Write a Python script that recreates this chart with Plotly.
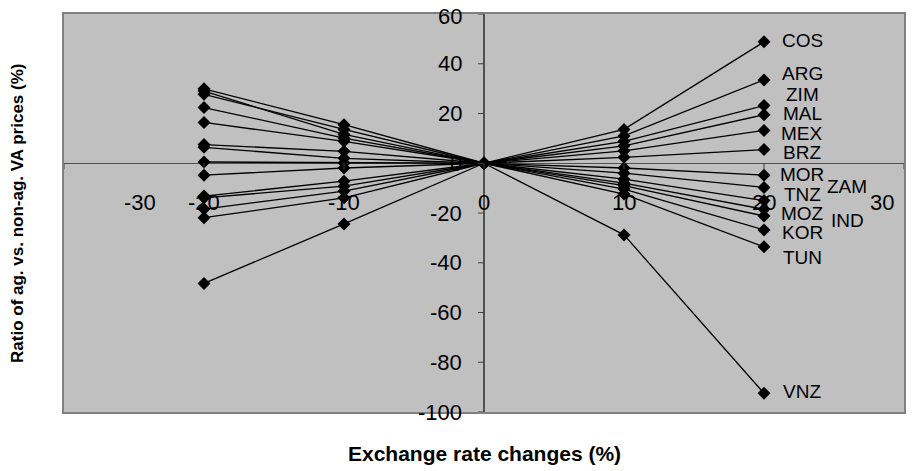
import plotly.graph_objects as go

# ---- data ----
x_changes = [-20, -10, 0, 10, 20]
countries = ["COS", "ARG", "ZIM", "MAL", "MEX", "BRZ", "MOR", "TNZ",
             "ZAM", "MOZ", "IND", "KOR", "TUN", "VNZ"]
cos = [-48.3, -24.4, 0, 13.6, 48.8]
arg = [-21.9, -13.9, 0, 11.0, 33.5]
zim = [-18.4, -11.2, 0, 8.8, 23.2]
mal = [-13.9, -9.2, 0, 7.0, 19.5]
mex = [-13.2, -7.2, 0, 5.0, 13.2]
brz = [-4.8, -1.9, 0, 2.4, 5.5]
mor = [0.5, 0.1, 0, -1.9, -4.8]
tnz = [6.4, 2.0, 0, -4.0, -9.7]
zam = [7.5, 4.8, 0, -6.4, -15.0]
moz = [16.4, 8.8, 0, -8.0, -18.5]
ind = [22.4, 10.1, 0, -9.0, -21.2]
kor = [27.7, 13.6, 0, -10.4, -26.8]
tun = [29.9, 15.5, 0, -12.4, -33.6]
vnz = [29.0, 11.6, 0, -28.8, -92.5]
series_values = [cos, arg, zim, mal, mex, brz, mor, tnz, zam, moz, ind, kor, tun, vnz]

x_ticks = [-30, -20, -10, 0, 10, 20, 30]
y_ticks = [-100, -80, -60, -40, -20, 0, 20, 40, 60]

# ---- label styling (pixel offsets) ----
label_yshift = {"COS": 1, "ARG": 6, "ZIM": 11, "MAL": 1, "MEX": -3, "BRZ": -3,
                "MOR": 1, "TNZ": -7, "ZAM": 14, "MOZ": -4, "IND": -5,
                "KOR": -3, "TUN": -11, "VNZ": 2}
label_xshift = {c: 38 for c in countries}
label_xshift["ZAM"] = 83
label_xshift["IND"] = 83

FONT = "Liberation Sans, Arial, sans-serif"

fig = go.Figure()
for name, vals in zip(countries, series_values):
    fig.add_trace(go.Scatter(
        x=x_changes, y=vals, mode="lines+markers", name=name,
        line=dict(color="black", width=1.3),
        marker=dict(symbol="diamond", size=10, color="black"),
        showlegend=False, cliponaxis=False,
    ))

annotations = []
for name, vals in zip(countries, series_values):
    annotations.append(dict(
        x=x_changes[-1], y=vals[-1], xref="x", yref="y", text=name,
        showarrow=False, xanchor="center", yanchor="middle",
        xshift=label_xshift[name], yshift=label_yshift[name],
        borderpad=0,
        font=dict(family=FONT, size=19, color="black"),
    ))

# x tick labels (axis crosses at y=0)
x_label_shift = {-30: 76, 30: -22}
for t in x_ticks:
    annotations.append(dict(
        x=t, y=0, xref="x", yref="y", text=str(t), showarrow=False,
        xanchor="center", yanchor="middle", borderpad=0,
        xshift=x_label_shift.get(t, 0), yshift=-39,
        font=dict(family=FONT, size=22, color="black"),
    ))
# y tick labels (axis crosses at x=0)
for t in y_ticks:
    annotations.append(dict(
        x=0, y=t, xref="x", yref="y", text=str(t), showarrow=False,
        xanchor="right", yanchor="middle", xshift=-21, borderpad=0,
        yshift=-2 if t == max(y_ticks) else 0,
        font=dict(family=FONT, size=22, color="black"),
    ))

annotations.append(dict(
    x=0.5, y=-0.105, xref="paper", yref="paper",
    text="<b>Exchange rate changes (%)</b>", showarrow=False,
    xanchor="center", yanchor="middle",
    font=dict(family=FONT, size=21, color="black"),
))
annotations.append(dict(
    x=-0.056, y=0.5, xref="paper", yref="paper",
    text="<b>Ratio of ag. vs. non-ag. VA prices (%)</b>", showarrow=False,
    textangle=-90, xanchor="center", yanchor="middle",
    font=dict(family=FONT, size=17, color="black"),
))

shapes = []
for t in x_ticks:
    shapes.append(dict(type="line", xref="x", yref="y", x0=t, x1=t,
                       ysizemode="pixel", yanchor=0, y0=0, y1=-6,
                       line=dict(color="#404040", width=1)))
for t in y_ticks:
    shapes.append(dict(type="line", xref="x", yref="y", y0=t, y1=t,
                       xsizemode="pixel", xanchor=0, x0=-6, x1=0,
                       line=dict(color="#404040", width=1)))

fig.update_layout(
    width=913, height=463,
    margin=dict(l=56, r=17, t=4, b=59),
    paper_bgcolor="white", plot_bgcolor="#C0C0C0",
    font=dict(family=FONT, color="black"),
    annotations=annotations, shapes=shapes,
    xaxis=dict(range=[-30, 30], showgrid=False, showticklabels=False,
               ticks="", zeroline=True, zerolinecolor="#505050", zerolinewidth=1.5,
               showline=True, mirror=True, linecolor="#808080", linewidth=2),
    yaxis=dict(range=[-100, 60], showgrid=False, showticklabels=False,
               ticks="", zeroline=True, zerolinecolor="#505050", zerolinewidth=1,
               showline=True, mirror=True, linecolor="#808080", linewidth=2),
)

fig.write_html("out.html")
